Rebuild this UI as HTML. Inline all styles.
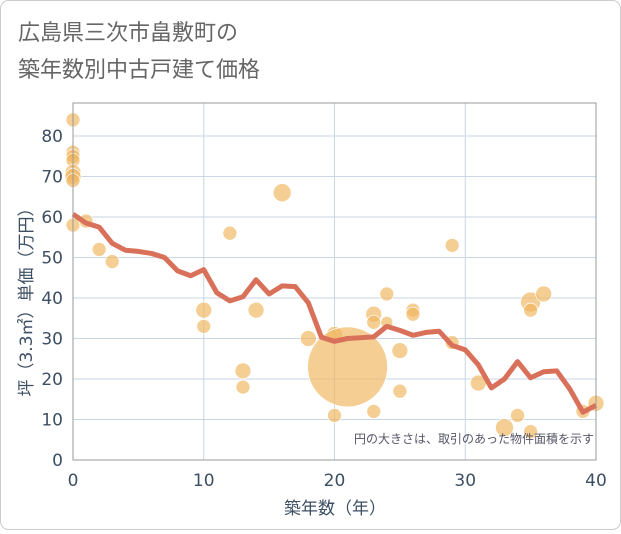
<!DOCTYPE html>
<html><head><meta charset="utf-8"><style>
body{margin:0;background:#fff;font-family:"DejaVu Sans","Noto Sans CJK JP",sans-serif;}
svg text{font-family:"DejaVu Sans","Noto Sans CJK JP",sans-serif;}
</style></head><body>
<svg id="c" width="621" height="530" xmlns="http://www.w3.org/2000/svg">
<rect x="0.5" y="0.5" width="620" height="529" rx="8" fill="#fff" stroke="#ccc"/>
<text x="18" y="40" font-size="22" fill="#666">広島県三次市畠敷町の</text>
<text x="18" y="77" font-size="22" fill="#666">築年数別中古戸建て価格</text>
<g id="grid"></g><g id="bubbles"></g><g id="line"></g><g id="axes"></g>
<text x="594" y="443" font-size="12" fill="#556" text-anchor="end">円の大きさは、取引のあった物件面積を示す</text>
<text x="335" y="514" font-size="17" fill="#3d4f63" text-anchor="middle">築年数（年）</text>
<text transform="translate(32,298) rotate(-90)" font-size="17" fill="#3d4f63" text-anchor="middle">坪（3.3㎡）単価（万円）</text>
</svg>
<script>
const xTicks=[0,10,20,30,40];
const yTicks=[0,10,20,30,40,50,60,70,80];
const lineYears=[0,1,2,3,4,5,6,7,8,9,10,11,12,13,14,15,16,17,18,19,20,21,22,23,24,25,26,27,28,29,30,31,32,33,34,35,36,37,38,39,40];
const linePrices=[60.7,58.5,57.5,53.5,51.8,51.5,51,50,46.7,45.5,47,41.3,39.3,40.3,44.5,41,43,42.8,38.8,30.3,29.3,30,30.2,30.4,33,32,30.8,31.5,31.8,28.3,27.2,23.5,17.8,20,24.3,20.3,21.8,22,17.5,11.8,13.5];
const bubbleAges=[0,0,0,0,0,0,0,0,1,2,3,10,10,12,13,13,14,16,18,20,20,21,23,23,23,24,24,25,25,26,26,29,29,31,33,34,35,35,35,36,39,40];
const bubblePrices=[84,76,75,74,71,70,69,58,59,52,49,37,33,56,22,18,37,66,30,31,11,23,36,34,12,41,34,27,17,37,36,53,29,19,8,11,39,37,7,41,12,14];
const bubbleSizes=[7,7,7,7,8,8,7,7,7,7,7,8,7,7,8,7,8,9,8,8,7,40,8,7,7,7,6,8,7,7,7,7,7,8,9,7,10,7,7,8,7,8];
const X=v=>73+v*(596-73)/40, Y=v=>460-v*(460-136)/80;
const NS="http://www.w3.org/2000/svg";
const g=id=>document.getElementById(id);
function mk(t,a,p){const e=document.createElementNS(NS,t);for(const k in a)e.setAttribute(k,a[k]);p.appendChild(e);return e;}
yTicks.forEach(v=>{
 const l=mk('line',{x1:73,x2:596,y1:Y(v),y2:Y(v),stroke:'#c9d6e3','stroke-width':1},g('grid'));
 
 
 const t=mk('text',{x:63,y:Y(v)+6,'font-size':17,fill:'#3d4f63','text-anchor':'end'},g('axes'));
 t.textContent=v;
 
 
});
xTicks.forEach(v=>{
 const l=mk('line',{x1:X(v),x2:X(v),y1:103,y2:460,stroke:'#c9d6e3','stroke-width':1},g('grid'));
 
 
 const t=mk('text',{x:X(v),y:486,'font-size':17,fill:'#3d4f63','text-anchor':'middle'},g('axes'));
 t.textContent=v;
 
 
});
const fr=mk('rect',{x:73,y:103,width:523,height:357,fill:'none',stroke:'#999'},g('axes'));


bubbleAges.forEach((a,i)=>{
 const c=mk('circle',{cx:X(a),cy:Y(bubblePrices[i]),r:bubbleSizes[i],fill:'rgba(240,180,90,0.65)',stroke:'#fff','stroke-width':0.7},g('bubbles'));
 
 
});
const p=mk('polyline',{points:lineYears.map((a,i)=>X(a)+','+Y(linePrices[i])).join(' '),fill:'none',stroke:'#d9705a','stroke-width':5,'stroke-linejoin':'round'},g('line'));


</script>
</body></html>
